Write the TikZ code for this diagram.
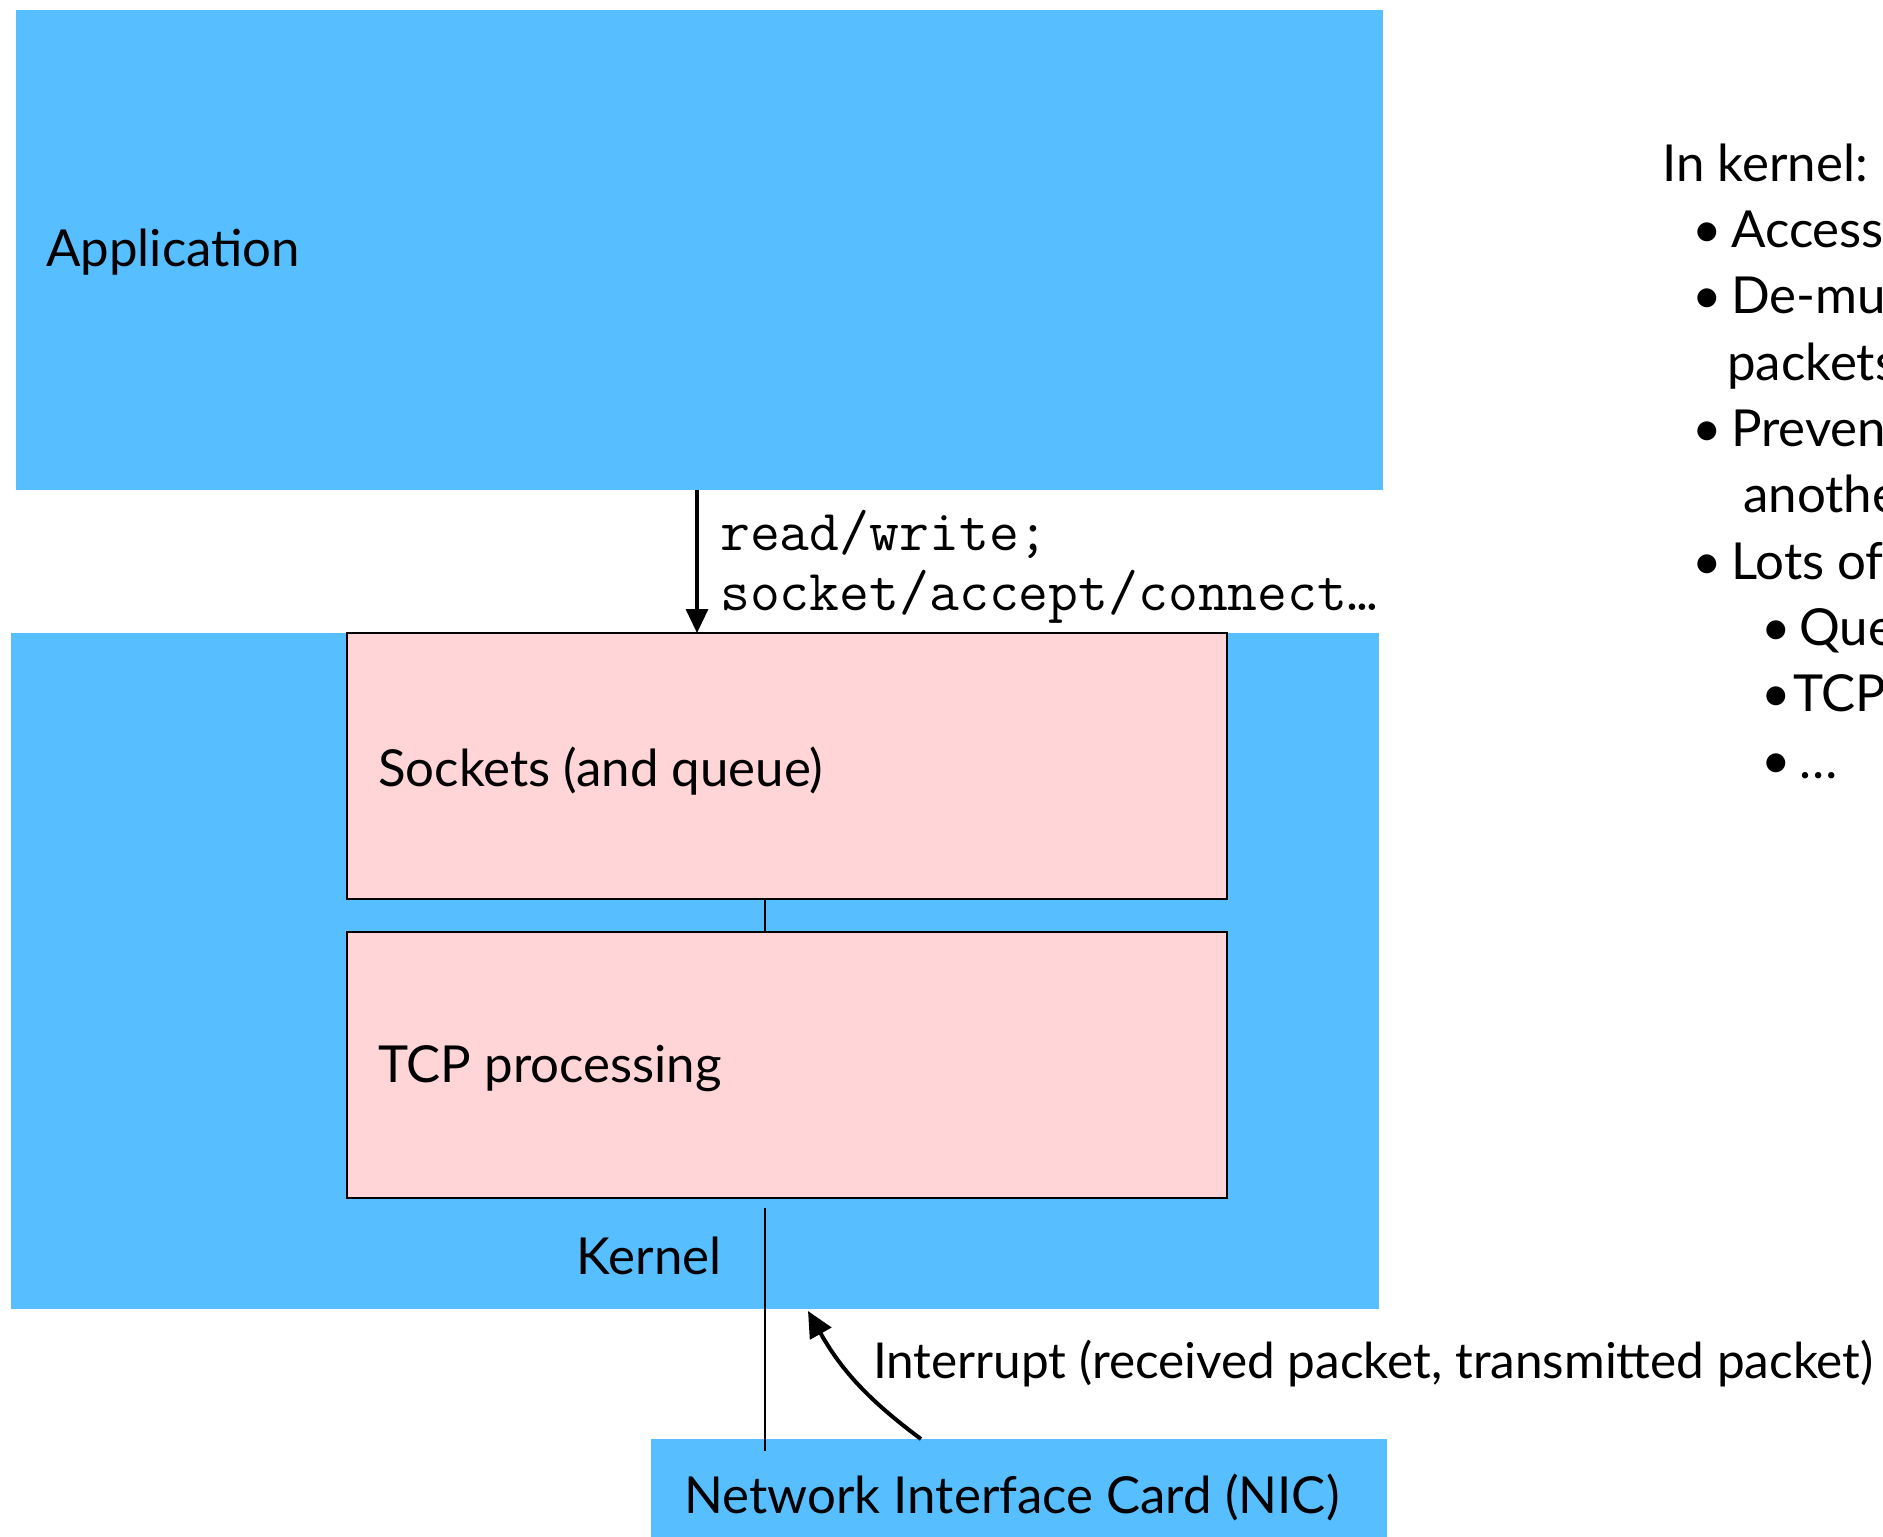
\documentclass[tikz,border=0pt]{standalone}
\usepackage{fontspec}
\setmainfont{Lato}
\usetikzlibrary{arrows.meta}
\definecolor{skyblue}{RGB}{87,191,255}
\definecolor{pinkbox}{RGB}{255,213,216}
\tikzset{
  bluebox/.style={fill=skyblue, draw=none, inner sep=0pt},
  pinkbox/.style={fill=pinkbox, draw=black, line width=2pt, inner sep=0pt},
  lbl/.style={inner sep=0pt, font=\fontsize{51}{61}\selectfont},
  code/.style={inner sep=0pt, font=\ttfamily\fontsize{58}{68}\selectfont},
  side/.style={inner sep=0pt, anchor=base west, font=\fontsize{51}{61}\selectfont},
  thinline/.style={line width=2pt},
  bigarrow/.style={line width=3.5pt, -{Triangle[length=24pt,width=22pt]}},
  bentarrow/.style={line width=4pt, -{Triangle[length=26pt,width=24pt]}}
}
\begin{document}
\begin{tikzpicture}[x=1pt,y=-1pt]
\useasboundingbox (0,0) rectangle (1883,1537);
\clip (0,0) rectangle (1883,1537);
% boxes
\node[bluebox, minimum width=1367pt, minimum height=480pt] (app) at (699.5,250) {};
\node[bluebox, minimum width=1368pt, minimum height=676pt] (kernel) at (695,971) {};
\node[pinkbox, minimum width=880pt, minimum height=266pt] (socks) at (787,766) {};
\node[pinkbox, minimum width=880pt, minimum height=266pt] (tcp) at (787,1065) {};
\node[bluebox, minimum width=736pt, minimum height=110pt] (nic) at (1019,1494) {};
% labels
\node[lbl, anchor=west] (applbl) at (46,252) {Application};
\node[lbl, anchor=west] (sockslbl) at (378,771) {Sockets (and queue)};
\node[lbl, anchor=west] (tcplbl) at (378,1069) {TCP processing};
\node[lbl] (kernellbl) at (649,1256) {Kernel};
\node[lbl] (niclbl) at (1012,1497) {Network Interface Card (NIC)};
\node[code, anchor=west] (rw) at (720,534) {read/write;};
\node[code, anchor=west] (sac) at (720,597) {socket/accept/connect\ldots};
\node[lbl, anchor=west, font=\fontsize{49.5}{59}\selectfont] (intlbl) at (873,1364) {Interrupt (received packet, transmitted packet)};
% connectors
\coordinate (a1) at (697,490);
\coordinate (a2) at (697,633);
\draw[bigarrow] (a1) -- (a2);
\draw[thinline] (socks.south -| 765,0) -- (tcp.north -| 765,0);
\coordinate (l1) at (765,1208);
\coordinate (l2) at (765,1451);
\draw[thinline] (l1) -- (l2);
\coordinate (i1) at (921,1439);
\coordinate (i2) at (808,1311);
\draw[bentarrow] (i1) to[bend left=12] (i2);
% side text
\node[side] (s0) at (1662,181) {In kernel:};
\node[side] (b1) at (1692,247) {•};
\node[side] (t1) at (1731,247) {Access to NIC};
\node[side] (b2) at (1692,313) {•};
\node[side] (t2) at (1731,313) {De-multiplexing};
\node[side] (t2b) at (1727,380) {packets};
\node[side] (b3) at (1692,446) {•};
\node[side] (t3) at (1731,446) {Prevent one app};
\node[side] (t3b) at (1743,512) {another};
\node[side] (b4) at (1692,579) {•};
\node[side] (t4) at (1731,579) {Lots of state};
\node[side] (b5) at (1761,645) {•};
\node[side] (t5) at (1799,645) {Queues};
\node[side] (b6) at (1761,711) {•};
\node[side] (t6) at (1793,711) {TCP state};
\node[side] (b7) at (1761,778) {•};
\node[side] (t7) at (1799,778) {\ldots};
\end{tikzpicture}
\end{document}
